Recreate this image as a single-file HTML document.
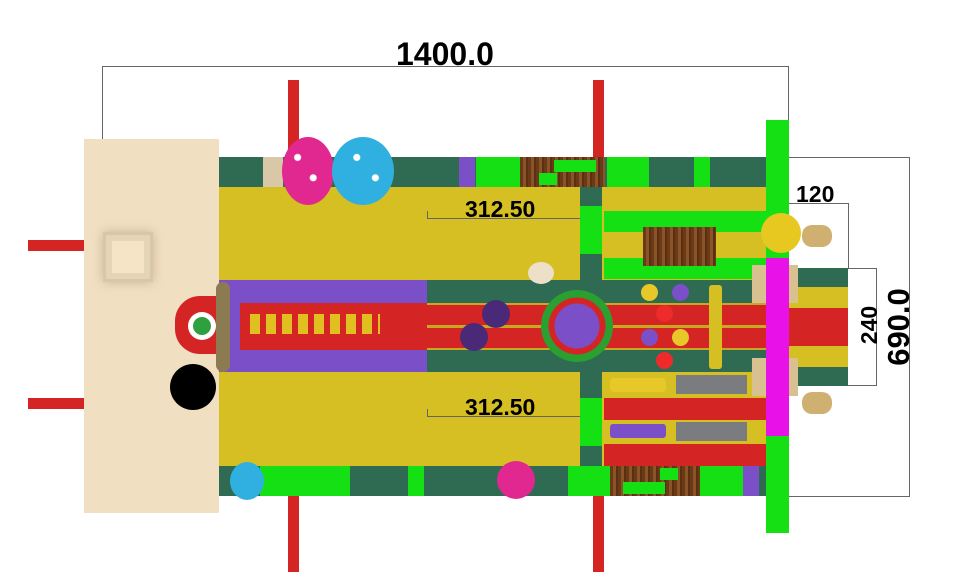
<!DOCTYPE html>
<html><head><meta charset="utf-8"><style>
*{margin:0;padding:0;box-sizing:border-box}
body{width:970px;height:587px;background:#fff;position:relative;overflow:hidden;font-family:"Liberation Sans",sans-serif}
div{position:absolute}
.g{background:#2f6b52}.y{background:#d6bf22}.r{background:#d42424}.p{background:#7a4fc8}.lg{background:#14e014}
.wood{background:repeating-linear-gradient(90deg,#6a3a18 0 3px,#8b5428 3px 6px,#5a3010 6px 8px)}
.t{font-weight:bold;color:#000;white-space:nowrap}
.rot{text-align:center;transform:rotate(-90deg)}
.ln{background:#666}
.post{background:#d42424}
.ball{border-radius:50%}
</style></head><body>
<!-- top dimension -->
<div class="ln" style="left:102px;top:66px;width:687px;height:1px"></div>
<div class="ln" style="left:102px;top:66px;width:1px;height:74px"></div>
<div class="ln" style="left:788px;top:66px;width:1px;height:54px"></div>
<div class="t" style="left:396px;top:36px;font-size:32px;line-height:36px">1400.0</div>

<!-- red posts -->
<div class="post" style="left:288px;top:80px;width:11px;height:78px"></div>
<div class="post" style="left:593px;top:80px;width:11px;height:78px"></div>
<div class="post" style="left:288px;top:495px;width:11px;height:77px"></div>
<div class="post" style="left:593px;top:495px;width:11px;height:77px"></div>
<div class="post" style="left:28px;top:240px;width:57px;height:11px"></div>
<div class="post" style="left:28px;top:398px;width:57px;height:11px"></div>

<!-- beige platform -->
<div style="left:84px;top:139px;width:135px;height:374px;background:#f1dfc2"></div>
<div style="left:103px;top:232px;width:50px;height:50px;background:#e6d4b6;border:3px solid #d9c8a8;box-shadow:0 0 10px #c8b590"></div>
<div style="left:112px;top:241px;width:32px;height:32px;background:#f6e4c6"></div>

<!-- main body -->
<div class="y" style="left:219px;top:157px;width:547px;height:339px"></div>
<div class="g" style="left:219px;top:157px;width:547px;height:30px"></div>
<div style="left:263px;top:157px;width:20px;height:30px;background:#d8c8a8"></div>
<div class="p" style="left:459px;top:157px;width:16px;height:30px"></div>
<div class="lg" style="left:476px;top:157px;width:44px;height:30px"></div>
<div class="wood" style="left:520px;top:157px;width:85px;height:30px"></div>
<div class="lg" style="left:554px;top:160px;width:42px;height:12px"></div>
<div class="lg" style="left:539px;top:173px;width:18px;height:12px"></div>
<div class="lg" style="left:607px;top:157px;width:42px;height:30px"></div>
<div class="lg" style="left:694px;top:157px;width:16px;height:30px"></div>

<div class="g" style="left:219px;top:466px;width:547px;height:30px"></div>
<div class="lg" style="left:260px;top:466px;width:90px;height:30px"></div>
<div class="lg" style="left:408px;top:466px;width:16px;height:30px"></div>
<div class="lg" style="left:568px;top:466px;width:42px;height:30px"></div>
<div class="wood" style="left:610px;top:466px;width:90px;height:30px"></div>
<div class="lg" style="left:623px;top:482px;width:42px;height:12px"></div>
<div class="lg" style="left:660px;top:468px;width:18px;height:12px"></div>
<div class="lg" style="left:700px;top:466px;width:44px;height:30px"></div>
<div class="p" style="left:743px;top:466px;width:16px;height:30px"></div>

<!-- central lane -->
<div class="p" style="left:219px;top:280px;width:208px;height:92px"></div>
<div class="r" style="left:240px;top:303px;width:187px;height:47px"></div>
<div style="left:250px;top:314px;width:130px;height:20px;background:repeating-linear-gradient(90deg,#e0c020 0 10px,#d42424 10px 16px)"></div>
<div class="g" style="left:427px;top:280px;width:339px;height:92px"></div>
<div class="r" style="left:427px;top:303px;width:339px;height:47px;border-top:2px solid #c8a820;border-bottom:2px solid #c8a820"></div>
<div style="left:427px;top:325px;width:339px;height:3px;background:#c8a820"></div>

<!-- right sections -->
<div class="g" style="left:580px;top:187px;width:22px;height:93px"></div>
<div class="lg" style="left:580px;top:206px;width:22px;height:48px"></div>
<div class="lg" style="left:604px;top:211px;width:162px;height:21px"></div>
<div class="lg" style="left:604px;top:258px;width:162px;height:21px"></div>
<div class="wood" style="left:643px;top:227px;width:73px;height:39px"></div>
<div class="g" style="left:580px;top:372px;width:22px;height:94px"></div>
<div class="lg" style="left:580px;top:398px;width:22px;height:48px"></div>
<div class="r" style="left:604px;top:398px;width:162px;height:22px"></div>
<div class="r" style="left:604px;top:444px;width:162px;height:22px"></div>
<div style="left:610px;top:378px;width:56px;height:14px;background:#e8c828;border-radius:4px"></div>
<div class="p" style="left:610px;top:424px;width:56px;height:14px;border-radius:3px"></div>
<div style="left:676px;top:375px;width:71px;height:19px;background:#7a7c80"></div>
<div style="left:676px;top:422px;width:71px;height:19px;background:#7a7c80"></div>

<!-- dots -->
<div class="ball" style="left:641px;top:284px;width:17px;height:17px;background:#e8c828"></div>
<div class="ball" style="left:672px;top:284px;width:17px;height:17px;background:#7a4fc8"></div>
<div class="ball" style="left:656px;top:305px;width:17px;height:17px;background:#ee2a2a"></div>
<div class="ball" style="left:641px;top:329px;width:17px;height:17px;background:#7a4fc8"></div>
<div class="ball" style="left:672px;top:329px;width:17px;height:17px;background:#e8c828"></div>
<div class="ball" style="left:656px;top:352px;width:17px;height:17px;background:#ee2a2a"></div>
<div style="left:709px;top:285px;width:13px;height:84px;background:#d6bf22;border-radius:3px"></div>

<!-- end walls -->
<div class="g" style="left:789px;top:268px;width:59px;height:118px"></div>
<div class="y" style="left:789px;top:287px;width:59px;height:80px"></div>
<div class="r" style="left:789px;top:308px;width:59px;height:38px"></div>
<div style="left:752px;top:265px;width:46px;height:38px;background:#d8c090"></div>
<div style="left:752px;top:358px;width:46px;height:38px;background:#d8c090"></div>
<div class="lg" style="left:766px;top:120px;width:23px;height:138px"></div>
<div style="left:766px;top:258px;width:23px;height:178px;background:#e812e8"></div>
<div class="lg" style="left:766px;top:436px;width:23px;height:97px"></div>
<div class="ball" style="left:761px;top:213px;width:40px;height:40px;background:#e6c820"></div>
<div style="left:802px;top:225px;width:30px;height:22px;background:#d0b070;border-radius:10px"></div>
<div style="left:802px;top:392px;width:30px;height:22px;background:#d0b070;border-radius:10px"></div>

<!-- eggs -->
<div class="ball" style="left:282px;top:137px;width:52px;height:68px;background:radial-gradient(circle at 30% 30%,#fff 0 3px,transparent 4px),radial-gradient(circle at 60% 60%,#fff 0 3px,transparent 4px),#e02890"></div>
<div class="ball" style="left:332px;top:137px;width:62px;height:68px;background:radial-gradient(circle at 40% 30%,#fff 0 3px,transparent 4px),radial-gradient(circle at 70% 60%,#fff 0 3px,transparent 4px),#30b0e0"></div>
<div class="ball" style="left:230px;top:462px;width:34px;height:38px;background:#30b0e0"></div>
<div class="ball" style="left:497px;top:461px;width:38px;height:38px;background:#e02890"></div>
<div class="ball" style="left:482px;top:300px;width:28px;height:28px;background:#4a2a78"></div>
<div class="ball" style="left:460px;top:323px;width:28px;height:28px;background:#4a2a78"></div>

<!-- figures -->
<div style="left:175px;top:296px;width:50px;height:58px;background:#d42424;border-radius:25px 6px 6px 25px"></div>
<div class="ball" style="left:188px;top:312px;width:28px;height:28px;background:#fff"></div>
<div class="ball" style="left:193px;top:317px;width:18px;height:18px;background:#2ea040"></div>
<div style="left:216px;top:282px;width:14px;height:90px;background:#8c7a50;border-radius:7px"></div>
<div class="ball" style="left:170px;top:364px;width:46px;height:46px;background:#000"></div>
<div class="ball" style="left:541px;top:290px;width:72px;height:72px;background:radial-gradient(circle,#7a4fc8 0 22px,#d42424 23px 28px,#2aa030 29px 36px)"></div>
<div class="ball" style="left:528px;top:262px;width:26px;height:22px;background:#eee0c8"></div>

<!-- 312.50 -->
<div class="ln" style="left:427px;top:218px;width:153px;height:1px"></div>
<div class="ln" style="left:427px;top:211px;width:1px;height:8px"></div>
<div class="t" style="left:465px;top:196px;font-size:23px;line-height:26px">312.50</div>
<div class="ln" style="left:427px;top:416px;width:153px;height:1px"></div>
<div class="ln" style="left:427px;top:409px;width:1px;height:8px"></div>
<div class="t" style="left:465px;top:394px;font-size:23px;line-height:26px">312.50</div>

<!-- right dims -->
<div class="ln" style="left:789px;top:157px;width:121px;height:1px"></div>
<div class="ln" style="left:789px;top:496px;width:121px;height:1px"></div>
<div class="ln" style="left:909px;top:157px;width:1px;height:340px"></div>
<div class="ln" style="left:789px;top:203px;width:59px;height:1px"></div>
<div class="ln" style="left:848px;top:203px;width:1px;height:65px"></div>
<div class="ln" style="left:848px;top:268px;width:29px;height:1px"></div>
<div class="ln" style="left:848px;top:385px;width:29px;height:1px"></div>
<div class="ln" style="left:876px;top:268px;width:1px;height:118px"></div>
<div class="t" style="left:796px;top:181px;font-size:23px;line-height:26px">120</div>
<div class="t rot" style="left:819px;top:312px;width:100px;height:26px;font-size:23px;line-height:26px">240</div>
<div class="t rot" style="left:849px;top:309px;width:100px;height:36px;font-size:31px;line-height:36px">690.0</div>
</body></html>
